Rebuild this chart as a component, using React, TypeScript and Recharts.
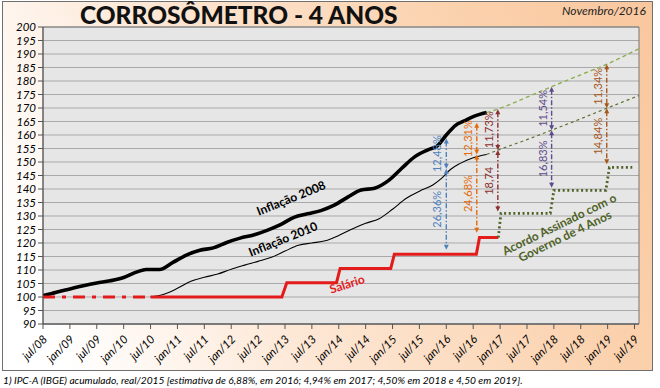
import React from "react";
import {
  ComposedChart,
  Line,
  XAxis,
  YAxis,
  CartesianGrid,
  ReferenceLine,
  ReferenceArea,
} from "recharts";

// x = months since jul/08
const tickMonths = [0, 6, 12, 18, 24, 30, 36, 42, 48, 54, 60, 66, 72, 78, 84, 90, 96, 102, 108, 114, 120, 126, 132];
const tickLabels = [
  "jul/08", "jan/09", "jul/09", "jan/10", "jul/10", "jan/11", "jul/11", "jan/12",
  "jul/12", "jan/13", "jul/13", "jan/14", "jul/14", "jan/15", "jul/15", "jan/16",
  "jul/16", "jan/17", "jul/17", "jan/18", "jul/18", "jan/19", "jul/19",
];
const yTicks = [90, 95, 100, 105, 110, 115, 120, 125, 130, 135, 140, 145, 150, 155, 160, 165, 170, 175, 180, 185, 190, 195, 200];

const infl2008Months = [0, 3, 6, 9, 12, 15, 18, 21, 23, 26, 29, 32, 35, 38, 41, 44, 47, 50, 53, 56, 59, 62, 65, 68, 71, 74, 77, 80, 83, 86, 88, 90, 92, 94, 96, 99];
const infl2008Values = [100.5, 101.8, 103, 104.2, 105.2, 106, 107.2, 109.3, 110.2, 110.2, 112.8, 115.5, 117.3, 118.2, 120.2, 121.8, 123, 124.7, 126.8, 129.5, 130.8, 132, 134, 137, 139.6, 140.3, 143, 147.6, 152, 154.6, 156, 160, 163.5, 165.2, 166.8, 168.3];

const infl2010Months = [24, 27, 30, 33, 36, 39, 42, 45, 48, 51, 54, 57, 60, 63, 66, 69, 72, 75, 78, 81, 84, 87, 89, 91, 93, 96, 99];
const infl2010Values = [100, 101, 103.2, 105.8, 107.3, 108.5, 110.3, 111.8, 113.2, 114.7, 117, 119.2, 120, 120.8, 122.8, 125.2, 127.3, 129, 132.5, 136.5, 139.2, 141.5, 144, 147.3, 149.4, 151.6, 152.8];

const projMonths = [99, 101.5, 108, 113.5, 120, 125.8, 133];
const proj2008Values = [168.3, 169.6, 174, 177.9, 182.3, 186.2, 192];
const proj2010Values = [152.8, 154.4, 158.3, 161.8, 166, 169.9, 174.6];

const salaryOldMonths = [0, 24];
const salaryOldValues = [100, 100];
const salaryMonths = [24, 53.3, 54.4, 65.5, 66.3, 77.6, 78.4, 96.7, 97.4, 101.6];
const salaryValues = [100, 100, 105.3, 105.3, 110.6, 110.6, 115.8, 115.8, 122, 122];

const acordoMonths = [101.6, 102.2, 113.2, 114, 125.6, 126.4, 131.5];
const acordoValues = [122, 131, 131, 139.5, 139.5, 148, 148];

// gap arrows
const gapMonths = [90, 96.8, 101.5, 113.5, 125.8];
const gapTop = [158.7, 164.5, 169.5, 177.9, 186.2];
const gapMid = [147.5, 152.8, 154.4, 161.8, 169.9];
const gapBottom = [117.5, 123.8, 131.7, 140.5, 149.2];
const gapUpperLabels = ["12,48%", "12,31%", "11,73%", "11,54%", "11,34%"];
const gapLowerLabels = ["26,36%", "24,68%", "18,74", "16,83%", "14,84%"];
const gapColors = ["#4f81bd", "#e46c0a", "#8c3030", "#5f4b8b", "#a5581c"];

const zip = (ms: number[], vs: number[]) => ms.map((m, i) => ({ m, v: vs[i] }));

const FONT = "Lato, 'Open Sans', sans-serif";

const XTick = ({ x, y, payload }: any) => {
  const i = tickMonths.indexOf(payload.value);
  return (
    <g transform={`translate(${x + 5},${y + 9}) rotate(-45)`}>
      <text textAnchor="end" fontSize={11.5} fontStyle="italic" fontFamily={FONT} fill="#000">
        {tickLabels[i]}
      </text>
    </g>
  );
};

const arrow = (color: string, label: string) => (props: any) => {
  const { x1, y1, y2 } = props;
  const top = Math.min(y1, y2);
  const bot = Math.max(y1, y2);
  const x = x1;
  return (
    <g>
      <line x1={x} y1={top + 3} x2={x} y2={bot - 3} stroke={color} strokeWidth={1.4} strokeDasharray="5 2 1.5 2" />
      <path d={`M${x},${top} l-2.5,5 h5 z`} fill={color} />
      <path d={`M${x},${bot} l-2.5,-5 h5 z`} fill={color} />
      <text
        transform={`translate(${x - 5},${(top + bot) / 2}) rotate(-90)`}
        textAnchor="middle"
        fontSize={11}
        fontFamily={FONT}
        fill={color}
      >
        {label}
      </text>
    </g>
  );
};

const rotLabel = (
  text: React.ReactNode,
  cx: number,
  cy: number,
  angle: number,
  color: string,
  size = 12
) => (
  <div
    style={{
      position: "absolute",
      left: cx,
      top: cy,
      transform: `translate(-50%,-50%) rotate(${angle}deg)`,
      color,
      fontFamily: FONT,
      fontWeight: 700,
      fontSize: size,
      lineHeight: "13px",
      whiteSpace: "nowrap",
      textAlign: "center",
      pointerEvents: "none",
    }}
  >
    {text}
  </div>
);

export default function App() {
  return (
    <div style={{ position: "fixed", left: 0, top: 0, width: 660, height: 388, background: "#fff", overflow: "hidden" }}>
      <div
        style={{
          position: "absolute",
          left: 2,
          top: 1,
          width: 651,
          height: 370,
          border: "1px solid #6f6f6f",
          boxSizing: "border-box",
          background: "linear-gradient(65deg, #ffffff 8%, #fde6d3 40%, #fbd2ae 75%, #f9c79e 100%)",
        }}
      />
      <div
        style={{
          position: "absolute",
          left: 80,
          top: 0,
          fontFamily: FONT,
          fontWeight: 900,
          fontSize: 24.5,
          color: "#111",
          whiteSpace: "nowrap",
        }}
      >
        CORROSÔMETRO - 4 ANOS
      </div>
      <div
        style={{
          position: "absolute",
          left: 562,
          top: 3,
          fontFamily: FONT,
          fontStyle: "italic",
          fontSize: 12,
          color: "#222",
        }}
      >
        Novembro/2016
      </div>
      <div style={{ position: "absolute", left: 0, top: 0 }}>
        <ComposedChart width={660} height={388} margin={{ top: 27, right: 21, bottom: 14, left: 0 }}>
          <CartesianGrid horizontal vertical={false} stroke="#a9a9a9" fill="#e6e6e6" />
          <XAxis
            dataKey="m"
            type="number"
            domain={[0, 133]}
            ticks={tickMonths}
            interval={0}
            height={50}
            tick={<XTick />}
            tickSize={5}
            stroke="#555"
            allowDataOverflow
          />
          <YAxis
            type="number"
            domain={[90, 200]}
            ticks={yTicks}
            interval={0}
            width={43}
            tickSize={5}
            stroke="#555"
            tick={{ fill: "#000", fontSize: 11.5, fontStyle: "italic", fontFamily: FONT }}
          />
          <ReferenceArea x1={0} x2={133} y1={90} y2={200} fill="none" stroke="#777" strokeWidth={1} />
          <Line data={zip(projMonths, proj2008Values)} dataKey="v" type="monotone" stroke="#8fae52" strokeWidth={1.4} strokeDasharray="4 3" dot={false} isAnimationActive={false} />
          <Line data={zip(projMonths, proj2010Values)} dataKey="v" type="monotone" stroke="#5d7033" strokeWidth={1.2} strokeDasharray="3 3" dot={false} isAnimationActive={false} />
          <Line data={zip(infl2010Months, infl2010Values)} dataKey="v" type="monotone" stroke="#000" strokeWidth={1.1} dot={false} isAnimationActive={false} />
          <Line data={zip(infl2008Months, infl2008Values)} dataKey="v" type="monotone" stroke="#000" strokeWidth={3.6} dot={false} isAnimationActive={false} />
          <Line data={zip(salaryOldMonths, salaryOldValues)} dataKey="v" type="linear" stroke="#e41b1b" strokeWidth={3} strokeDasharray="12 7 4 7" dot={false} isAnimationActive={false} />
          <Line data={zip(salaryMonths, salaryValues)} dataKey="v" type="linear" stroke="#e41b1b" strokeWidth={3} dot={false} isAnimationActive={false} />
          <Line data={zip(acordoMonths, acordoValues)} dataKey="v" type="linear" stroke="#4f6228" strokeWidth={2.8} strokeDasharray="2 2.6" dot={false} isAnimationActive={false} />
          {gapMonths.map((m, i) => (
            <ReferenceLine
              key={`u${i}`}
              segment={[{ x: m, y: gapTop[i] }, { x: m, y: gapMid[i] }]}
              shape={arrow(gapColors[i], gapUpperLabels[i])}
            />
          ))}
          {gapMonths.map((m, i) => (
            <ReferenceLine
              key={`l${i}`}
              segment={[{ x: m, y: gapMid[i] }, { x: m, y: gapBottom[i] }]}
              shape={arrow(gapColors[i], gapLowerLabels[i])}
            />
          ))}
        </ComposedChart>
      </div>
      {rotLabel("Inflação 2008", 291, 198, -22, "#000")}
      {rotLabel("Inflação 2010", 283, 239, -22, "#000")}
      {rotLabel("Salário", 347, 284, -18, "#e41b1b")}
      {rotLabel(
        <>
          Acordo Assinado com o<br />Governo de 4 Anos
        </>,
        562,
        230,
        -26,
        "#4f6228"
      )}
      <div
        style={{
          position: "absolute",
          left: 3,
          top: 374,
          fontFamily: FONT,
          fontStyle: "italic",
          fontSize: 10.2,
          color: "#000",
          whiteSpace: "nowrap",
        }}
      >
        1) IPC-A (IBGE) acumulado, real/2015 [estimativa de 6,88%, em 2016; 4,94% em 2017; 4,50% em 2018 e 4,50 em 2019].
      </div>
    </div>
  );
}
